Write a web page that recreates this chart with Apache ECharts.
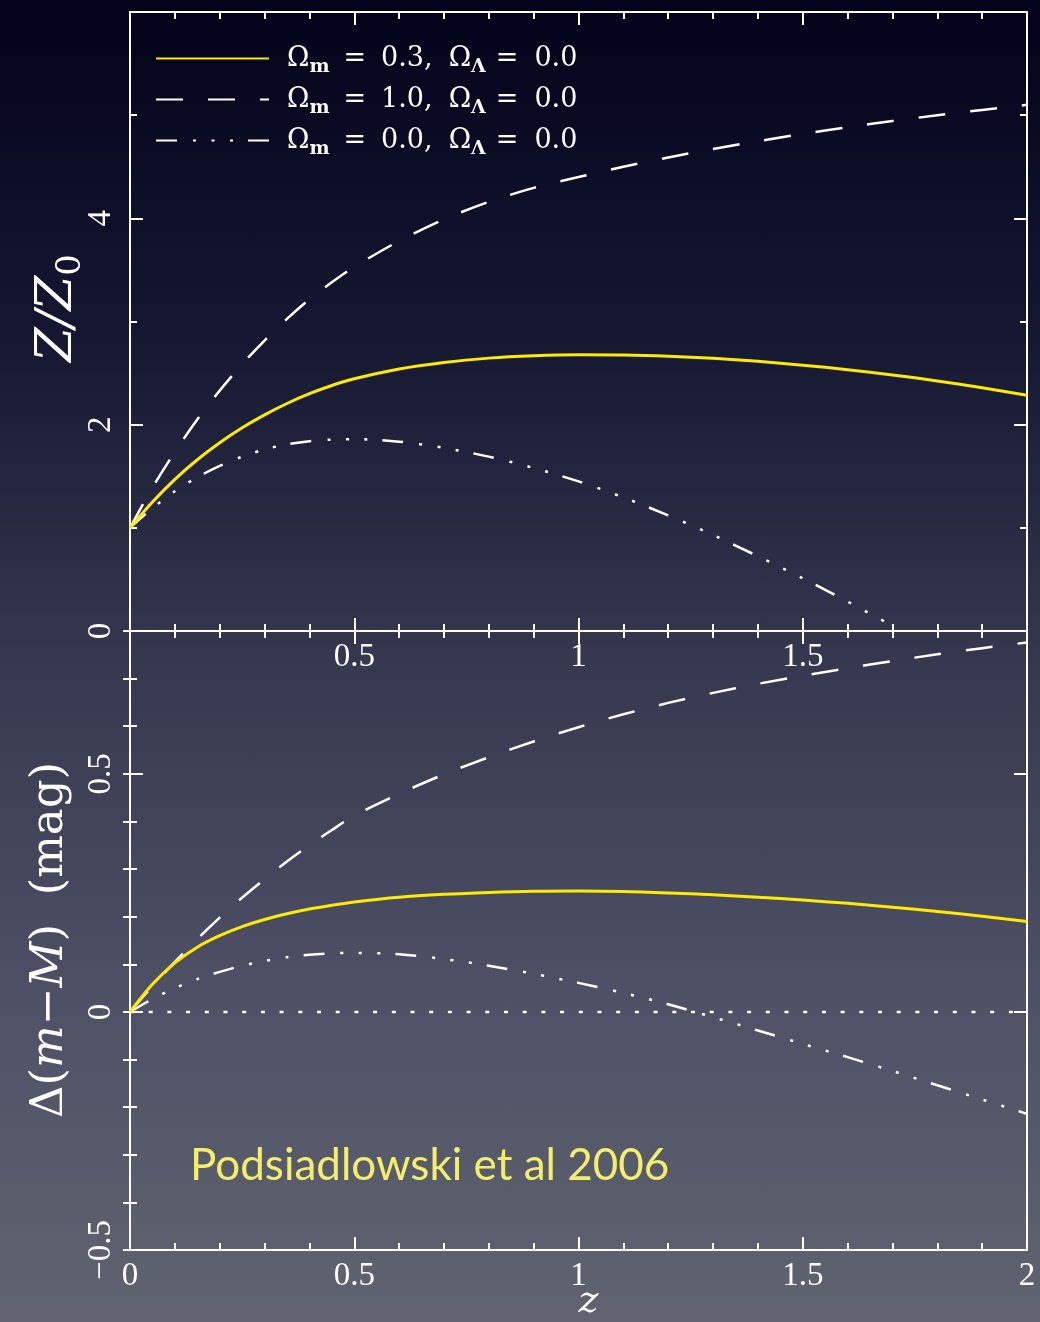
<!DOCTYPE html>
<html><head><meta charset="utf-8">
<script src="https://cdn.jsdelivr.net/npm/echarts@6/dist/echarts.min.js"></script>
<style>
html,body{margin:0;padding:0;width:1040px;height:1322px;overflow:hidden;
background:linear-gradient(to bottom,#02031a 0%,#151731 25%,#35384e 50%,#4e5165 75%,#60636f 100%);}
#chart{width:1040px;height:1322px;}
</style></head><body><div id="chart"></div>
<script>
// redshift samples shared by every curve
const redshift = [0,0.05,0.1,0.15,0.2,0.25,0.3,0.35,0.4,0.45,0.5,0.6,0.7,0.8,0.9,1.0,1.1,1.2,1.3,1.4,1.5,1.6,1.7,1.8,1.9,2.0];

// upper panel: Z/Z0
const ratioOpen03 = [1.0,1.25,1.47,1.66,1.825,1.97,2.095,2.205,2.30,2.38,2.445,2.54,2.603,2.645,2.668,2.678,2.676,2.664,2.643,2.614,2.577,2.533,2.482,2.424,2.358,2.285];
const ratioFlat10 = [1.0,1.39,1.735,2.05,2.33,2.585,2.815,3.025,3.215,3.38,3.53,3.78,3.99,4.16,4.295,4.40,4.50,4.59,4.672,4.748,4.818,4.883,4.943,4.999,5.051,5.10];
const ratioEmpty  = [1.0,1.19,1.355,1.49,1.60,1.69,1.76,1.81,1.84,1.855,1.86,1.835,1.775,1.69,1.58,1.45,1.295,1.12,0.93,0.725,0.51,0.285,0.05,null,null,null];

// lower panel: Delta(m-M) in mag
const dmOpen03 = [0,0.058,0.103,0.136,0.160,0.179,0.194,0.206,0.216,0.224,0.231,0.241,0.247,0.251,0.2535,0.254,0.253,0.25,0.246,0.241,0.235,0.228,0.22,0.211,0.201,0.19];
const dmFlat10 = [0,0.054,0.105,0.153,0.198,0.240,0.279,0.316,0.350,0.382,0.412,0.458,0.499,0.535,0.568,0.598,0.625,0.649,0.670,0.689,0.706,0.722,0.737,0.751,0.764,0.776];
const dmEmpty  = [0,0.027,0.05,0.069,0.084,0.097,0.107,0.115,0.12,0.123,0.124,0.121,0.111,0.097,0.08,0.061,0.04,0.016,-0.011,-0.039,-0.067,-0.095,-0.124,-0.154,-0.184,-0.214];

// reference zero level
const zeroZ = [0, 2];
const zeroDm = [0, 0];

const names = ['Ωm = 0.3, ΩΛ = 0.0', 'Ωm = 1.0, ΩΛ = 0.0', 'Ωm = 0.0, ΩΛ = 0.0'];
const omegaM = ['0.3,', '1.0,', '0.0,'];
const omegaL = ['0.0', '0.0', '0.0'];
const legendRich = {};
names.forEach((n, i) => {
  legendRich[n] = '{o1|Ω}{s|m}{e1|=}{t|' + omegaM[i] + '}{o|Ω}{s|Λ}{e2|=}{t|' + omegaL[i] + '}';
});

const pairs = (xs, ys) => xs.map((x, i) => [x, ys[i]]).filter(p => p[1] !== null);

const WHITE = '#ffffff';
const YELLOW = '#ffea00';
const dashLong = [27, 25];
const dashDotDotDot = [21, 16, 3, 15.5, 3, 15.5, 3, 15];
const tickFont = {color: WHITE, fontFamily: 'Liberation Serif', fontSize: 33};

function xAxisDef(gridIndex, position, labels) {
  return {
    type: 'value', gridIndex, position, min: 0, max: 2, interval: 0.5,
    axisLine: {show: true, onZero: false, lineStyle: {color: WHITE, width: 2}},
    axisTick: {show: true, inside: true, length: 13, lineStyle: {color: WHITE, width: 2}},
    minorTick: {show: true, splitNumber: 5, length: 7, lineStyle: {color: WHITE, width: 2}},
    splitLine: {show: false}, minorSplitLine: {show: false},
    axisLabel: labels ? Object.assign({show: true, margin: 10, formatter: labels}, tickFont) : {show: false}
  };
}

function yAxisDef(gridIndex, position, min, max, interval, opts) {
  return Object.assign({
    type: 'value', gridIndex, position, min, max, interval,
    axisLine: {show: true, onZero: false, lineStyle: {color: WHITE, width: 2}},
    axisTick: {show: true, inside: true, length: 13, lineStyle: {color: WHITE, width: 2}},
    splitLine: {show: false}, minorSplitLine: {show: false},
    axisLabel: {show: false}
  }, opts || {});
}

const topLabels = v => (v === 0 || v === 2 || v === 4) ? String(v) : '';
const dmLabels = v => {
  if (Math.abs(v - 0.8) < 1e-6) return '';
  return v < 0 ? '−' + Math.abs(v) : String(v);
};
const leftLabel = fmt => Object.assign({show: true, rotate: 90, margin: 12, formatter: fmt}, tickFont);

function lineSeries(name, xIdx, yIdx, xs, ys, color, width, type, z) {
  return {
    name, type: 'line', xAxisIndex: xIdx, yAxisIndex: yIdx,
    data: pairs(xs, ys), showSymbol: false, symbol: 'none',
    smooth: 0.3, z,
    lineStyle: {color, width, type, cap: 'butt'},
    itemStyle: {color},
    emphasis: {disabled: true}
  };
}

const legendText = {color: WHITE, fontFamily: 'DejaVu Serif', fontSize: 27};

const chart = echarts.init(document.getElementById('chart'), null, {renderer: 'canvas'});
chart.setOption({
  backgroundColor: 'transparent',
  animation: false,
  grid: [
    {left: 130, top: 12, width: 897, height: 619, outerBoundsMode: 'none', containLabel: false},
    {left: 130, top: 631, width: 897, height: 619, outerBoundsMode: 'none', containLabel: false}
  ],
  xAxis: [
    xAxisDef(0, 'bottom', v => (v > 0 && v < 2) ? String(v) : ''),
    xAxisDef(0, 'top', null),
    Object.assign(xAxisDef(1, 'bottom', v => String(v)), {
      name: 'z', nameLocation: 'middle', nameGap: 33, nameMoveOverlap: false,
      nameTextStyle: {color: WHITE, fontFamily: 'DejaVu Serif', fontStyle: 'italic', fontSize: 38, padding: [0, 0, 0, 20]}
    }),
    xAxisDef(1, 'top', null)
  ],
  yAxis: [
    yAxisDef(0, 'left', 0, 6, 2, {
      minorTick: {show: true, splitNumber: 2, length: 7, lineStyle: {color: WHITE, width: 2}},
      axisLabel: leftLabel(topLabels)
    }),
    yAxisDef(0, 'right', 0, 6, 2, {
      minorTick: {show: true, splitNumber: 2, length: 7, lineStyle: {color: WHITE, width: 2}}
    }),
    yAxisDef(1, 'left', -0.5, 0.8, 0.5, {axisLabel: leftLabel(dmLabels)}),
    yAxisDef(1, 'right', -0.5, 0.8, 0.5),
    yAxisDef(1, 'left', -0.5, 0.8, 0.1, {
      axisLine: {show: false}, axisTick: {show: true, inside: true, length: 7, lineStyle: {color: WHITE, width: 2}}
    }),
    yAxisDef(1, 'right', -0.5, 0.8, 0.1, {
      axisLine: {show: false}, axisTick: {show: true, inside: true, length: 7, lineStyle: {color: WHITE, width: 2}}
    })
  ],
  legend: {
    show: true, orient: 'vertical', left: 150, top: 40,
    itemWidth: 113, itemHeight: 20, itemGap: 9,
    selectedMode: false,
    data: names,
    itemStyle: {color: 'rgba(0,0,0,0)', borderWidth: 0, opacity: 0},
    formatter: n => legendRich[n],
    textStyle: Object.assign({
      rich: {
        o1: Object.assign({padding: [0, 0, 0, 13]}, legendText),
        o: Object.assign({padding: [0, 0, 0, 16]}, legendText),
        t: legendText,
        e1: Object.assign({padding: [0, 15, 0, 14]}, legendText),
        e2: Object.assign({padding: [0, 16, 0, 10]}, legendText),
        s: {color: WHITE, fontFamily: 'DejaVu Serif', fontSize: 19, fontWeight: 'bold', padding: [18, 0, 0, 0]}
      }
    }, legendText)
  },
  graphic: [
    {
      type: 'text', x: 58, y: 308, rotation: Math.PI / 2,
      style: {
        text: '{i|Z/Z}{s|0}', align: 'center', verticalAlign: 'middle', fill: WHITE,
        rich: {
          i: {fill: WHITE, fontFamily: 'DejaVu Serif', fontStyle: 'italic', fontSize: 50},
          s: {fill: WHITE, fontFamily: 'DejaVu Serif', fontSize: 34, padding: [26, 0, 0, 0]}
        }
      }
    },
    {
      type: 'text', x: 50, y: 940, rotation: Math.PI / 2,
      style: {
        text: '{r|Δ(}{i|m}{r|−}{i|M}{r|)  (mag)}', align: 'center', verticalAlign: 'middle', fill: WHITE,
        rich: {
          r: {fill: WHITE, fontFamily: 'DejaVu Serif', fontSize: 45},
          i: {fill: WHITE, fontFamily: 'DejaVu Serif', fontStyle: 'italic', fontSize: 45}
        }
      }
    },
    {
      type: 'text', x: 190, y: 1166,
      style: {
        text: 'Podsiadlowski et al 2006', fill: '#f3ee6c', align: 'left', verticalAlign: 'middle',
        fontFamily: 'Lato', fontSize: 44
      }
    }
  ],
  series: [
    lineSeries(names[1], 0, 0, redshift, ratioFlat10, WHITE, 2.5, dashLong, 3),
    lineSeries(names[2], 0, 0, redshift, ratioEmpty, WHITE, 2.5, dashDotDotDot, 3),
    lineSeries(names[0], 0, 0, redshift, ratioOpen03, YELLOW, 3, 'solid', 4),
    lineSeries(names[1], 2, 2, redshift, dmFlat10, WHITE, 2.5, dashLong, 3),
    lineSeries(names[2], 2, 2, redshift, dmEmpty, WHITE, 2.5, dashDotDotDot, 3),
    lineSeries(names[0], 2, 2, redshift, dmOpen03, YELLOW, 3, 'solid', 4),
    {
      type: 'line', xAxisIndex: 2, yAxisIndex: 2, data: pairs(zeroZ, zeroDm),
      symbol: 'none', silent: true, z: 2,
      lineStyle: {color: WHITE, width: 2.5, type: [4, 14.7]}
    }
  ]
});
</script></body></html>
